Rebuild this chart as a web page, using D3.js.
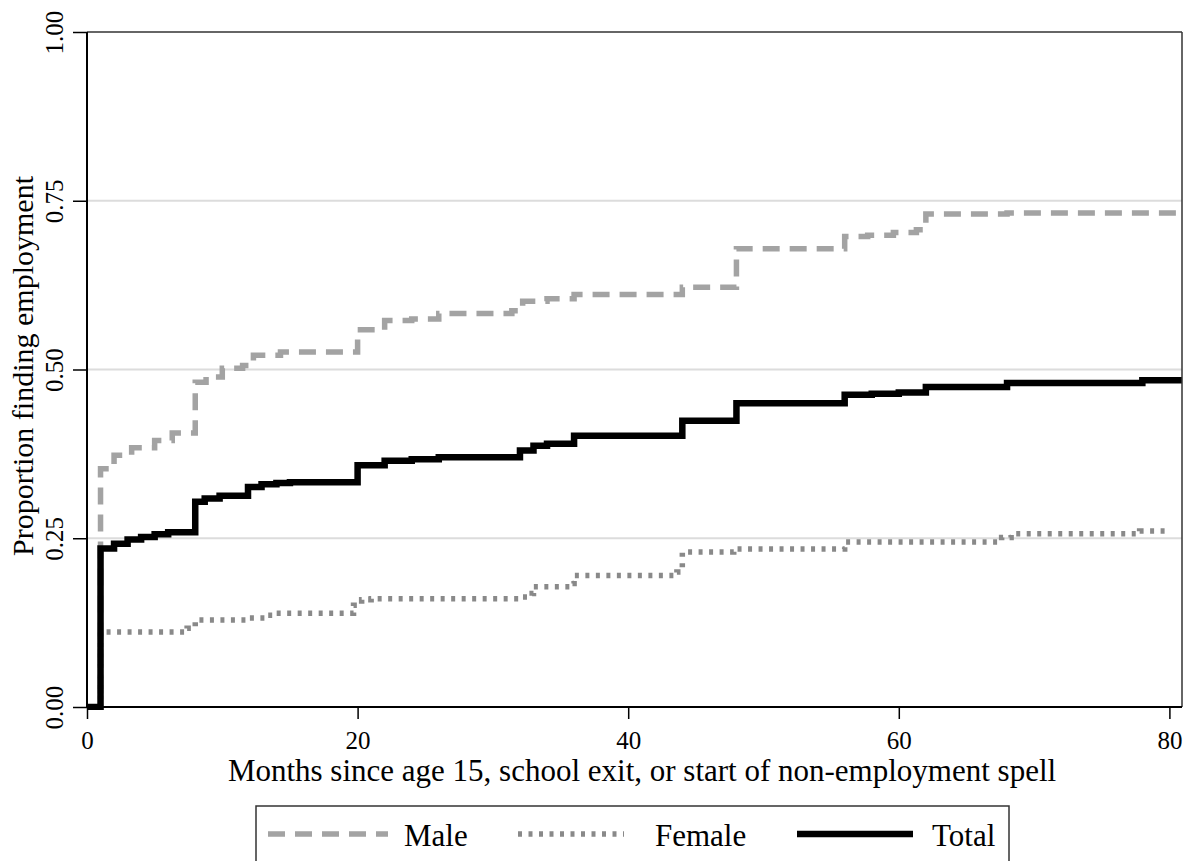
<!DOCTYPE html>
<html>
<head>
<meta charset="utf-8">
<script src="https://cdn.jsdelivr.net/npm/d3@7/dist/d3.min.js"></script>
<style>
  html, body { margin: 0; padding: 0; background: #fff; }
  svg { display: block; font-family: "Liberation Serif", "Times New Roman", serif; }
</style>
</head>
<body>
<svg id="chart" width="1188" height="861"></svg>
<script>
// ---- data ----
const xTicks = [0, 20, 40, 60, 80];
const yTicks = [0, 0.25, 0.5, 0.75, 1];
const yTickLabels = ["0.00", "0.25", "0.50", "0.75", "1.00"];
const gridValues = [0.25, 0.5, 0.75];

const maleMonths  = [0, 1, 2, 3.3, 5, 6.3, 8, 8.8, 10, 11.5, 12.3, 14.3, 20, 22, 24, 26, 31.4, 32.2, 34, 36, 44, 48, 56, 57.7, 59.6, 61.3, 62, 68, 81];
const maleValues  = [0, .353, .373, .384, .395, .406, .481, .489, .502, .506, .521, .526, .559, .5725, .575, .583, .587, .601, .605, .611, .622, .679, .697, .699, .703, .707, .7305, .732, .732];

const femaleMonths = [0, 1, 7.4, 8, 11.8, 13.3, 13.9, 19.7, 20.3, 21, 32, 32.9, 33, 35.7, 36, 43.6, 44, 47.8, 56, 67.6, 68.3, 77.8, 80];
const femaleValues = [0, .111, .1165, .129, .132, .136, .139, .1506, .159, .1605, .163, .168, .178, .183, .195, .200, .2295, .234, .2443, .251, .2567, .2606, .2606];

const totalMonths = [0, 1, 2, 3, 4, 5, 6, 8, 8.7, 9.8, 11.9, 12.9, 14, 15, 20, 22, 24, 26, 32, 33, 34, 36, 44, 48, 56, 58, 60, 62, 68, 78, 81];
const totalValues = [0, .235, .242, .248, .252, .256, .259, .304, .309, .313, .326, .330, .332, .333, .358, .365, .367, .370, .380, .387, .390, .402, .424, .450, .4625, .464, .466, .474, .480, .484, .484];

const seriesNames = ["Male", "Female", "Total"];

// ---- layout ----
const svg = d3.select("#chart");
const L = 87, R = 1182, T = 32, B = 707;
const x = d3.scaleLinear().domain([0, 81]).range([L, L + 81 * 13.53]);
const y = d3.scaleLinear().domain([0, 1]).range([B, T]);

const styles = {
  Male:   { stroke: "#a3a3a3", width: 5.5, dash: "17,10" },
  Female: { stroke: "#898989", width: 5.5, dash: "4,6.5" },
  Total:  { stroke: "#000000", width: 6.5, dash: null }
};

svg.append("defs").append("clipPath").attr("id", "clip")
  .append("rect").attr("x", L).attr("y", T - 3).attr("width", R - L).attr("height", B - T + 6);

// grid
svg.append("g").selectAll("line").data(gridValues).join("line")
  .attr("x1", L).attr("x2", R)
  .attr("y1", d => y(d)).attr("y2", d => y(d))
  .attr("stroke", "#dcdcdc").attr("stroke-width", 2);

// lines
const line = d3.line().x(d => x(d[0])).y(d => y(d[1])).curve(d3.curveStepAfter);
const data = {
  Male: d3.zip(maleMonths, maleValues),
  Female: d3.zip(femaleMonths, femaleValues),
  Total: d3.zip(totalMonths, totalValues)
};
const plot = svg.append("g").attr("clip-path", "url(#clip)");
seriesNames.forEach(n => {
  plot.append("path").datum(data[n])
    .attr("d", line)
    .attr("fill", "none")
    .attr("stroke", styles[n].stroke)
    .attr("stroke-width", styles[n].width)
    .attr("stroke-dasharray", styles[n].dash)
    .attr("stroke-linejoin", "miter");
});

// frame top/right
svg.append("line").attr("x1", L).attr("x2", R).attr("y1", T).attr("y2", T)
  .attr("stroke", "#333").attr("stroke-width", 1.5);
svg.append("line").attr("x1", R).attr("x2", R).attr("y1", T).attr("y2", B)
  .attr("stroke", "#333").attr("stroke-width", 1.5);

// axes
const xAxis = d3.axisBottom(x).tickValues(xTicks).tickSize(12).tickPadding(12).tickSizeOuter(0);
const gx = svg.append("g").attr("transform", `translate(0,${B})`).call(xAxis);
gx.select(".domain").attr("d", `M${L},0H${R}`).attr("stroke", "#000").attr("stroke-width", 2);
gx.selectAll(".tick line").attr("stroke", "#000").attr("stroke-width", 1.5);
gx.selectAll(".tick text").attr("font-size", 25).attr("fill", "#000")
  .attr("font-family", "Liberation Serif");

const yAxis = d3.axisLeft(y).tickValues(yTicks).tickFormat((d, i) => yTickLabels[i]).tickSize(14).tickPadding(8).tickSizeOuter(0);
const gy = svg.append("g").attr("transform", `translate(${L},0)`).call(yAxis);
gy.select(".domain").attr("d", `M0,${B}V${T}`).attr("stroke", "#000").attr("stroke-width", 2);
gy.selectAll(".tick line").attr("stroke", "#000").attr("stroke-width", 1.5);
gy.selectAll(".tick text")
  .attr("font-size", 25).attr("fill", "#000").attr("font-family", "Liberation Serif")
  .attr("x", null).attr("dy", null)
  .attr("text-anchor", "middle")
  .attr("transform", "translate(-24,0) rotate(-90)");

// axis titles
svg.append("text").attr("x", 642).attr("y", 781)
  .attr("text-anchor", "middle").attr("font-size", 31).attr("fill", "#000")
  .text("Months since age 15, school exit, or start of non-employment spell");
svg.append("text")
  .attr("transform", `translate(33,366) rotate(-90)`)
  .attr("text-anchor", "middle").attr("font-size", 30).attr("fill", "#000")
  .text("Proportion finding employment");

// legend
const lg = svg.append("g");
lg.append("rect").attr("x", 256).attr("y", 806).attr("width", 753).attr("height", 80)
  .attr("fill", "#fff").attr("stroke", "#333").attr("stroke-width", 1.5);
const legendItems = [
  { name: "Male", x0: 268, x1: 388, tx: 404 },
  { name: "Female", x0: 518, x1: 624, tx: 655 },
  { name: "Total", x0: 797, x1: 913, tx: 932 }
];
legendItems.forEach(it => {
  const s = styles[it.name];
  lg.append("line").attr("x1", it.x0).attr("x2", it.x1).attr("y1", 834).attr("y2", 834)
    .attr("stroke", s.stroke).attr("stroke-width", s.width).attr("stroke-dasharray", s.dash);
  lg.append("text").attr("x", it.tx).attr("y", 846).attr("font-size", 31).attr("fill", "#000")
    .text(it.name);
});
</script>
</body>
</html>
